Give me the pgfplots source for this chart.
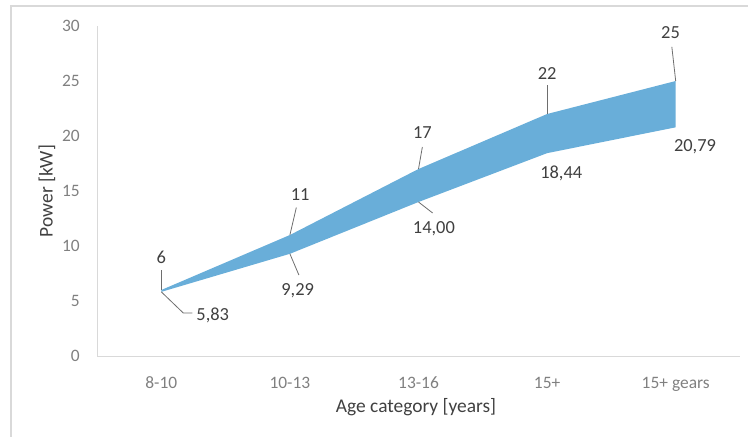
\documentclass[border=0pt]{standalone}
\usepackage{fontspec}
\setmainfont{Carlito}
\usepackage{pgfplots}
\pgfplotsset{compat=1.18}
\usepgfplotslibrary{fillbetween}
\definecolor{areablue}{RGB}{105,174,217}
\definecolor{axisgray}{RGB}{217,217,217}
\definecolor{tickgray}{RGB}{128,128,128}
\definecolor{labgray}{RGB}{64,64,64}
\definecolor{leadgray}{RGB}{110,110,110}
\begin{document}
\begin{tikzpicture}
\begin{axis}[
  at={(0,0)}, anchor=south west,
  scale only axis, width=643bp, height=330bp,
  xmin=-0.5, xmax=4.5, ymin=0, ymax=30,
  axis lines=left,
  axis line style={draw=axisgray, line width=1bp, -},
  xtick={0,1,2,3,4},
  xticklabels={8-10,10-13,13-16,15+,15+ gears},
  major x tick style={draw=none},
  extra x ticks={-0.5,0.5,1.5,2.5,3.5,4.5},
  extra x tick labels={},
  extra x tick style={major tick length=5bp, tick align=outside, tick style={draw=axisgray, line width=1bp}},
  ytick={0,5,...,30},
  major y tick style={draw=none},
  /pgf/number format/assume math mode=true,
  tick label style={font=\fontsize{17.5}{20}\selectfont, text=tickgray},
  xticklabel style={anchor=base, inner sep=0pt, yshift=-30bp},
  yticklabel style={anchor=east, inner sep=0pt, xshift=-15bp},
  clip=false,
]
\addplot[name path=upper, draw=none] coordinates {(0,6) (1,11) (2,17) (3,22) (4,25)};
\addplot[name path=lower, draw=none] coordinates {(0,5.83) (1,9.29) (2,14.00) (3,18.44) (4,20.79)};
\addplot[fill=areablue, draw=none] fill between[of=upper and lower];
% leader lines
\draw[leadgray, line width=0.8bp] (axis cs:0,6) -- (axis cs:0,7.82);
\draw[leadgray, line width=0.8bp] (axis cs:1,11) -- (axis cs:1.05,13.5);
\draw[leadgray, line width=0.8bp] (axis cs:2,17) -- (axis cs:2.03,19.0);
\draw[leadgray, line width=0.8bp] (axis cs:3,22) -- (axis cs:3,24.64);
\draw[leadgray, line width=0.8bp] (axis cs:4,25) -- (axis cs:3.97,28.1);
\draw[leadgray, line width=0.8bp] (axis cs:0,5.83) -- (axis cs:0.171,3.91) -- (axis cs:0.241,3.91);
\draw[leadgray, line width=0.8bp] (axis cs:1,9.29) -- (axis cs:1.07,7.36);
\draw[leadgray, line width=0.8bp] (axis cs:2,14.00) -- (axis cs:2.11,13.0);
% data labels
\begin{scope}[every node/.style={font=\fontsize{18.5}{21}\selectfont, text=labgray, inner sep=0pt}]
\node at (axis cs:0,9.0) {6};
\node at (axis cs:1.08,14.64) {11};
\node at (axis cs:2.03,20.27) {17};
\node at (axis cs:3.0,25.64) {22};
\node at (axis cs:3.96,29.4) {25};
\node at (axis cs:0.40,3.73) {5,83};
\node at (axis cs:1.06,5.9) {9,29};
\node at (axis cs:2.12,11.55) {14,00};
\node at (axis cs:3.11,16.64) {18,44};
\node at (axis cs:4.15,19.0) {20,79};
\end{scope}
\end{axis}
\node[font=\fontsize{19.5}{22}\selectfont, text=labgray] at (319bp,-51bp) {Age category [years]};
\node[font=\fontsize{19.5}{22}\selectfont, text=labgray, rotate=90] at (-50bp,165bp) {Power [kW]};
\draw[axisgray, line width=1.5bp] (-86bp,-100bp) rectangle (700bp,350bp);
\pgfresetboundingbox
\path[use as bounding box] (-97bp,-81bp) rectangle (651bp,356bp);
\end{tikzpicture}
\end{document}
